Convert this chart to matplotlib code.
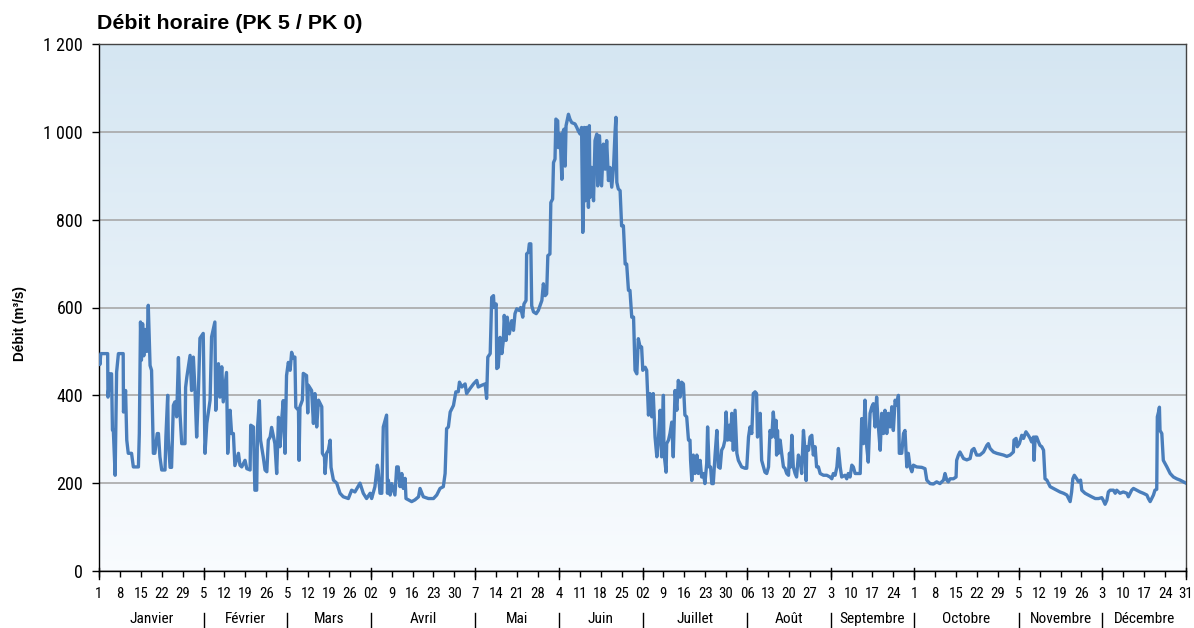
import numpy as np
import matplotlib
matplotlib.use("Agg")
import matplotlib.pyplot as plt
from matplotlib import font_manager
from matplotlib.transforms import blended_transform_factory

# hourly flow (day of year, m3/s)
days_q1 = [0.0, 0.3, 0.6, 2.9, 3.0, 3.7, 4.2, 4.5, 4.8, 5.4,
           5.9, 6.5, 8.1, 8.2, 8.9, 9.3, 9.8, 10.9, 11.5, 13.2,
           13.5, 13.9, 14.2, 14.6, 15.0, 15.4, 16.0, 16.5, 17.1, 17.6,
           18.2, 18.7, 19.5, 19.9, 20.4, 21.0, 22.1, 22.4, 23.0, 23.2,
           23.8, 24.3, 24.9, 25.4, 26.0, 26.6, 27.1, 27.7, 28.8, 29.0,
           29.4, 30.5, 31.0, 31.6, 32.2, 32.7, 33.3, 33.8, 34.9, 35.5,
           36.1, 37.2, 37.7, 38.8, 39.1, 40.0, 40.5, 41.1, 41.6, 42.7,
           43.1, 43.9, 44.4, 45.0, 45.5, 46.7, 47.2, 47.8, 48.9, 49.5,
           50.6, 50.8, 51.7, 52.2, 52.8, 53.1, 53.7, 54.1, 55.0, 55.6,
           56.2, 56.7, 57.3, 57.8, 58.9, 59.5, 60.1, 60.6, 61.2, 61.7,
           62.3, 62.8, 63.4, 64.0, 64.5, 65.1, 65.6, 65.9, 66.8, 67.0,
           67.3, 68.1, 68.4, 69.5, 69.9, 70.1, 71.2, 71.8, 72.3, 72.9,
           73.5, 74.6, 74.8, 75.5, 75.7, 76.2, 76.8, 77.4, 77.7, 78.5,
           79.6, 80.7, 81.8, 83.5, 84.6, 85.7, 87.4, 88.5, 89.6, 90.8,
           91.3]
flow_q1 = [488, 470, 495, 495, 396, 449, 449, 321, 321, 218,
           453, 495, 495, 362, 411, 298, 268, 268, 237, 237,
           313, 567, 480, 563, 490, 550, 500, 605, 468, 457,
           268, 268, 313, 313, 260, 230, 230, 305, 400, 300,
           236, 236, 377, 385, 351, 486, 362, 290, 290, 418,
           441, 491, 411, 487, 404, 305, 411, 530, 541, 268,
           336, 389, 533, 567, 366, 472, 396, 465, 385, 452,
           268, 366, 313, 313, 240, 268, 241, 237, 252, 233,
           230, 332, 328, 184, 184, 328, 388, 298, 260, 230,
           226, 298, 305, 327, 290, 222, 350, 283, 347, 388,
           268, 445, 475, 457, 498, 484, 487, 373, 366, 252,
           374, 389, 450, 445, 360, 423, 411, 336, 404, 328,
           389, 374, 268, 260, 222, 268, 275, 298, 236, 207,
           200, 177, 169, 165, 184, 180, 200, 177, 165, 177,
           165]

days_q2 = [92.4, 93.2, 93.5, 94.1, 94.7, 95.2, 95.8, 96.3, 96.6, 96.9,
           97.5, 98.0, 99.1, 99.7, 100.2, 100.8, 101.4, 101.9, 102.5, 102.8,
           103.6, 104.7, 105.8, 107.0, 107.5, 108.6, 110.3, 112.0, 113.1, 114.2,
           115.3, 115.9, 116.4, 117.0, 117.6, 118.7, 119.5, 120.3, 120.7, 121.5,
           122.6, 123.1, 124.2, 125.4, 126.5, 127.0, 128.2, 129.3, 129.8, 130.2,
           131.0, 131.5, 132.1, 132.3, 133.0, 133.2, 133.7, 134.3, 134.9, 135.4,
           135.7, 136.3, 136.7, 137.4, 138.2, 138.8, 139.3, 139.9, 140.8, 141.2,
           141.9, 142.3, 143.0, 143.2, 143.8, 144.1, 144.6, 144.9, 145.5, 146.4,
           147.1, 148.3, 148.8, 149.4, 149.9, 150.3, 151.0, 151.3, 151.9, 152.2,
           152.7, 153.0, 153.6, 153.8, 154.4, 155.0, 155.3, 155.7, 156.1, 156.4,
           157.2, 157.7, 158.3, 159.4, 160.0, 160.5, 161.1, 161.6, 162.0, 162.2,
           162.5, 162.8, 163.3, 163.9, 164.2, 164.4, 165.0, 165.6, 166.1, 166.7,
           167.0, 167.6, 168.3, 168.9, 169.5, 170.0, 170.6, 171.1, 171.7, 172.3,
           172.8, 173.1, 173.4, 173.9, 174.5, 175.0, 175.6, 176.2, 176.7, 177.3,
           177.8, 178.4, 179.0, 179.5, 180.1, 180.6, 181.2, 181.7, 182.1, 182.9,
           183.4, 184.0]
flow_q2 = [192, 241, 229, 177, 177, 328, 343, 355, 177, 207,
           173, 199, 173, 237, 237, 192, 222, 188, 211, 165,
           162, 158, 162, 169, 188, 169, 165, 165, 173, 188,
           192, 222, 324, 328, 362, 377, 408, 408, 430, 419,
           426, 404, 415, 426, 434, 419, 423, 426, 393, 487,
           495, 623, 627, 600, 608, 461, 464, 532, 495, 525,
           582, 525, 578, 540, 570, 548, 586, 597, 593, 600,
           578, 608, 616, 722, 726, 745, 745, 604, 590, 586,
           593, 616, 654, 627, 631, 718, 722, 839, 847, 930,
           938, 1029, 1025, 964, 995, 892, 998, 1006, 922, 1014,
           1040, 1029, 1021, 1018, 1010, 1002, 995, 1010, 771, 820,
           1010, 843, 1010, 828, 1014, 851, 919, 843, 980, 995,
           877, 991, 877, 972, 915, 980, 889, 919, 874, 919,
           998, 1033, 885, 870, 866, 786, 786, 699, 699, 639,
           639, 578, 578, 457, 449, 529, 510, 510, 457, 464,
           457, 355]

days_q3 = [184.5, 185.1, 185.6, 186.2, 186.8, 187.3, 187.9, 188.4, 189.0, 189.2,
           189.9, 190.1, 190.7, 191.2, 191.8, 192.3, 192.9, 193.5, 194.0, 194.6,
           195.1, 195.7, 196.2, 196.8, 197.4, 197.9, 198.1, 198.5, 199.0, 199.6,
           200.2, 200.7, 201.3, 201.8, 202.4, 202.9, 203.5, 203.8, 204.3, 204.8,
           205.2, 205.7, 206.3, 206.9, 207.4, 208.0, 208.5, 209.1, 209.6, 210.0,
           210.5, 211.1, 211.5, 211.9, 212.4, 213.0, 213.6, 214.1, 215.2, 216.3,
           216.9, 217.5, 218.0, 218.6, 219.1, 219.7, 220.2, 220.5, 220.8, 221.4,
           221.9, 222.5, 223.0, 223.6, 224.2, 224.7, 225.3, 225.8, 226.4, 226.7,
           226.9, 227.2, 227.5, 228.1, 228.6, 229.2, 229.7, 230.3, 230.9, 231.2,
           231.6, 232.0, 232.5, 233.1, 233.6, 234.2, 234.8, 235.3, 235.9, 236.4,
           236.8, 237.0, 237.6, 238.1, 238.7, 239.2, 239.8, 240.3, 240.9, 241.5,
           242.6, 243.7, 244.8, 245.4, 245.9, 246.5, 247.1, 247.6, 248.2, 248.7,
           249.8, 250.4, 250.9, 251.5, 252.1, 252.6, 253.2, 253.7, 254.9, 255.4,
           256.0, 256.5, 257.1, 257.6, 258.2, 258.8, 259.3, 259.9, 260.4, 261.0,
           261.6, 262.1, 262.7, 263.2, 263.8, 264.3, 264.9, 265.5, 266.0, 266.6,
           267.1, 267.7, 268.0, 268.8, 269.4, 269.9, 270.5, 271.0, 271.6]
flow_q3 = [404, 351, 404, 305, 260, 298, 366, 260, 400, 268,
           225, 290, 298, 313, 339, 260, 411, 366, 434, 396,
           430, 426, 355, 351, 298, 298, 252, 206, 264, 222,
           264, 222, 252, 214, 222, 199, 245, 328, 237, 237,
           199, 199, 264, 320, 237, 234, 275, 283, 298, 362,
           298, 332, 298, 359, 275, 366, 268, 252, 237, 234,
           234, 305, 328, 313, 404, 408, 404, 305, 313, 359,
           252, 237, 225, 222, 237, 320, 305, 362, 305, 343,
           264, 320, 268, 298, 268, 237, 234, 222, 218, 268,
           237, 309, 237, 222, 214, 264, 252, 222, 320, 275,
           206, 283, 275, 305, 309, 264, 283, 237, 237, 222,
           218, 218, 214, 210, 222, 218, 237, 279, 237, 214,
           218, 210, 222, 214, 241, 237, 222, 222, 222, 347,
           290, 389, 283, 248, 359, 374, 381, 328, 396, 328,
           275, 359, 313, 366, 313, 359, 328, 374, 320, 389,
           377, 400, 268, 268, 313, 320, 237, 268, 237]

days_q4 = [272.2, 272.7, 273.8, 275.5, 276.6, 277.2, 278.3, 279.4, 280.5, 281.6,
           282.8, 283.3, 283.9, 284.4, 285.0, 286.1, 287.0, 287.2, 287.8, 288.3,
           289.5, 290.6, 291.7, 292.3, 293.0, 293.9, 295.0, 296.2, 297.3, 297.8,
           298.4, 299.5, 300.6, 301.7, 302.9, 304.0, 305.1, 306.2, 306.4, 307.1,
           307.5, 308.2, 309.0, 309.6, 310.4, 311.2, 311.8, 312.3, 312.9, 313.1,
           313.5, 314.0, 314.6, 315.1, 315.7, 316.3, 316.8, 317.4, 318.5, 319.6,
           320.7, 321.8, 323.0, 324.1, 325.2, 325.7, 326.1, 326.6, 327.4, 328.0,
           328.7, 329.1, 330.2, 331.3, 332.4, 333.6, 334.7, 335.8, 336.3, 336.9,
           337.5, 338.0, 338.6, 339.7, 340.3, 340.8, 341.9, 343.0, 344.2, 344.7,
           345.3, 345.8, 346.4, 347.5, 348.6, 349.7, 350.9, 351.4, 352.0, 352.5,
           353.1, 353.6, 354.2, 354.4, 354.8, 355.1, 355.3, 355.9, 356.4, 357.6,
           358.7, 359.8, 360.9, 362.0, 363.1, 364.0]
flow_q4 = [226, 241, 237, 236, 233, 207, 199, 198, 203, 199,
           207, 222, 207, 203, 210, 210, 214, 252, 264, 271,
           256, 253, 256, 275, 279, 264, 264, 271, 286, 290,
           279, 271, 268, 266, 264, 261, 264, 271, 298, 302,
           283, 290, 309, 302, 317, 309, 302, 294, 305, 252,
           305, 305, 294, 286, 283, 275, 210, 207, 192, 188,
           184, 180, 177, 173, 158, 180, 210, 218, 210, 203,
           207, 184, 177, 173, 169, 165, 165, 167, 161, 152,
           161, 180, 184, 184, 177, 184, 177, 180, 177, 169,
           177, 184, 188, 184, 180, 177, 173, 165, 158, 165,
           173, 184, 186, 351, 362, 373, 320, 313, 252, 237,
           222, 214, 210, 207, 203, 200]

week_labels = ["1", "8", "15", "22", "29", "5", "12", "19", "26",
               "5", "12", "19", "26", "02", "9", "16", "23", "30",
               "7", "14", "21", "28", "4", "11", "18", "25",
               "02", "9", "16", "23", "30", "06", "13", "20", "27",
               "3", "10", "17", "24", "1", "8", "15", "22", "29",
               "5", "12", "19", "26", "3", "10", "17", "24", "31"]
month_names = ["Janvier", "Février", "Mars", "Avril", "Mai", "Juin", "Juillet",
               "Août", "Septembre", "Octobre", "Novembre", "Décembre"]
y_ticks = [0, 200, 400, 600, 800, 1000, 1200]
y_labels = ["0", "200", "400", "600", "800", "1 000", "1 200"]

days = np.concatenate([days_q1, days_q2, days_q3, days_q4])
flow = np.concatenate([flow_q1, flow_q2, flow_q3, flow_q4])

# narrow sans for the axis labels (Arial Narrow look-alike if one is installed)
available = {f.name for f in font_manager.fontManager.ttflist
             if f.style == "normal"}
narrow = "Liberation Sans"
for cand in ["Liberation Sans Narrow", "Arial Narrow", "Nimbus Sans Narrow",
             "Roboto Condensed", "IBM Plex Sans Condensed", "Asap Condensed",
             "Barlow Semi Condensed"]:
    if cand in available:
        narrow = cand
        break
plt.rcParams["font.family"] = [narrow, "DejaVu Sans"]

W, H = 1194, 628
fig = plt.figure(figsize=(W / 100, H / 100), dpi=100)
renderer = fig.canvas.get_renderer()


def fit_size(text, target_px):
    # font size giving the label the width it has in the picture
    t = fig.text(0, 0, text, fontsize=10)
    w = t.get_window_extent(renderer=renderer).width
    t.remove()
    return 10 * target_px / w


ytick_fs = fit_size("1 200", 39.0)
xtick_fs = fit_size("21", 14.5)
month_fs = fit_size("Janvier", 44.0)

ax = fig.add_axes([99 / W, 1 - 571 / H, (1186 - 99) / W, (571 - 44) / H])

# background gradient
top = np.array([0.835, 0.902, 0.949])
bot = np.array([0.975, 0.986, 0.997])
t = np.linspace(0, 1, 256)[:, None, None]
img = top + (bot - top) * t
ax.imshow(img, extent=[0, 1, 0, 1], transform=ax.transAxes, aspect="auto",
          zorder=0, interpolation="bilinear")

ax.plot(days, flow, color="#4a7ebb", lw=2.4, zorder=3, solid_joinstyle="round")

ax.set_xlim(0, 364)
ax.set_ylim(0, 1200)
ax.set_yticks(y_ticks, y_labels)
ax.grid(axis="y", color="#a8a8a8", lw=1.2)
ax.set_axisbelow(True)

week_pos = np.arange(len(week_labels)) * 7
ax.set_xticks(week_pos, week_labels)
ax.tick_params(axis="x", direction="out", length=4, width=1, pad=7.5,
               labelsize=xtick_fs)
ax.tick_params(axis="y", direction="out", length=5, width=1, pad=6.5,
               labelsize=ytick_fs)

for s in ["left", "bottom"]:
    ax.spines[s].set_color("black")
for s in ["top", "right"]:
    ax.spines[s].set_color("#444444")
for s in ax.spines.values():
    s.set_linewidth(1.0)

# month boundaries: first weekly tick of each month (2018 calendar, non-leap)
dates = np.datetime64("2018-01-01") + week_pos.astype("timedelta64[D]")
months = dates.astype("datetime64[M]").astype(int)
first = [0] + [i for i in range(1, len(months)) if months[i] != months[i - 1]]
sep = list(week_pos[first]) + [364]

trans = blended_transform_factory(ax.transData, ax.transAxes)
for j, d in enumerate(sep):
    ax.plot([d, d], [0.006, -0.016], transform=trans, color="black", lw=1,
            clip_on=False, zorder=4)
    if 0 < j < len(sep) - 1:
        ax.plot([d, d], [-0.080, -0.11], transform=trans, color="black", lw=1,
                clip_on=False)
for j, name in enumerate(month_names):
    ax.text((sep[j] + sep[j + 1]) / 2, -0.092, name, transform=trans,
            ha="center", va="center", fontsize=month_fs)

fig.text(97 / W, 1 - 29.3 / H, "Débit horaire (PK 5 / PK 0)",
         family=["Liberation Sans", "DejaVu Sans"], fontweight="bold",
         fontsize=15.4, va="baseline", ha="left")
fig.text(20 / W, 1 - 324 / H, "Débit (m³/s)", family=["Liberation Sans", "DejaVu Sans"],
         fontweight="bold", fontsize=9.8, rotation=90, ha="center", va="center")

fig.savefig("out.png", dpi=100)
